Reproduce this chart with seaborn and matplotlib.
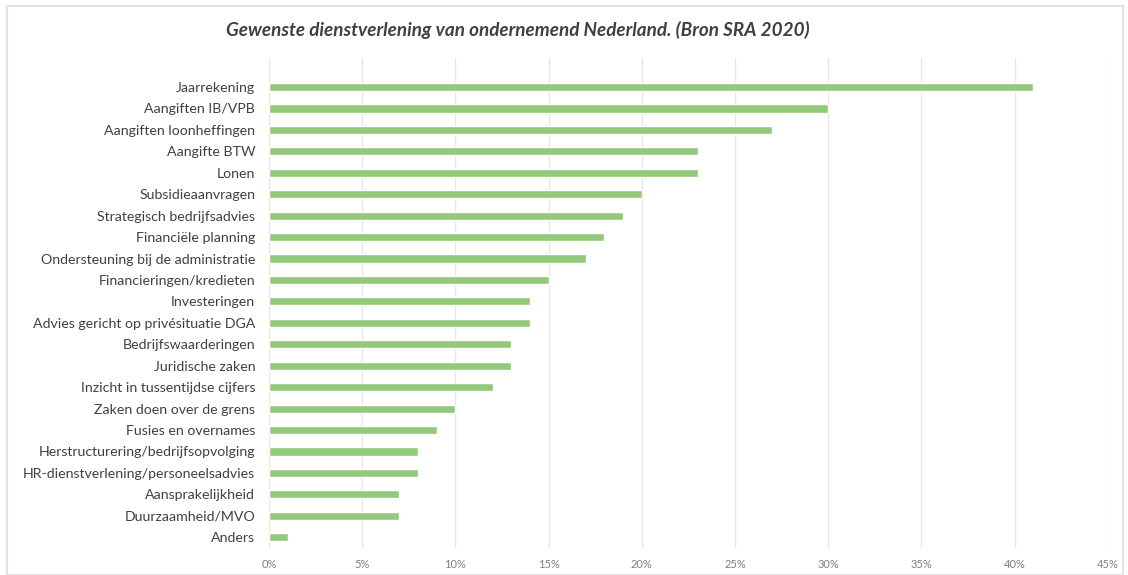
import matplotlib
matplotlib.use("Agg")
import matplotlib.pyplot as plt
import seaborn as sns
import pandas as pd
from matplotlib.patches import Rectangle
from matplotlib.ticker import PercentFormatter

# data
categorieen = [
    'Jaarrekening', 'Aangiften IB/VPB', 'Aangiften loonheffingen', 'Aangifte BTW',
    'Lonen', 'Subsidieaanvragen', 'Strategisch bedrijfsadvies', 'Financiële planning',
    'Ondersteuning bij de administratie', 'Financieringen/kredieten', 'Investeringen',
    'Advies gericht op privésituatie DGA', 'Bedrijfswaarderingen', 'Juridische zaken',
    'Inzicht in tussentijdse cijfers', 'Zaken doen over de grens', 'Fusies en overnames',
    'Herstructurering/bedrijfsopvolging', 'HR-dienstverlening/personeelsadvies',
    'Aansprakelijkheid', 'Duurzaamheid/MVO', 'Anders',
]
percentages = [41, 30, 27, 23, 23, 20, 19, 18, 17, 15, 14, 14, 13, 13, 12, 10, 9, 8, 8, 7, 7, 1]
x_ticks = [0, 5, 10, 15, 20, 25, 30, 35, 40, 45]

df = pd.DataFrame({'dienst': categorieen, 'pct': percentages})

sns.set_theme(style='white')
plt.rcParams['font.family'] = ['Lato', 'DejaVu Sans']

fig = plt.figure(figsize=(11.28, 5.75), dpi=100)
ax = fig.add_axes([0.2385, 0.047, 0.982 - 0.2385, 0.852])

sns.barplot(data=df, x='pct', y='dienst', color='#92c97a', saturation=1,
            width=0.38, ax=ax, orient='h')

ax.set_xlim(0, 45)
ax.set_ylim(21.5, -1.35)
ax.set_xticks(x_ticks)
ax.xaxis.set_major_formatter(PercentFormatter(decimals=0))
ax.grid(axis='x', color='#e6e6e6', linewidth=1)
ax.set_axisbelow(True)
for s in ax.spines.values():
    s.set_visible(False)
ax.set_xlabel('')
ax.set_ylabel('')
ax.tick_params(axis='y', labelsize=10.2, labelcolor='#404040', length=0, pad=10)
ax.tick_params(axis='x', labelsize=8, labelcolor='#7f7f7f', length=0, pad=8)

fig.text(0.459, 0.947, 'Gewenste dienstverlening van ondernemend Nederland. (Bron SRA 2020)',
         ha='center', va='center', fontsize=13.6, style='italic', fontweight='bold',
         color='#404040')

# light frame around the chart area
fig.patches.append(Rectangle((0.006, 0.0), 0.99, 0.99, transform=fig.transFigure,
                             fill=False, edgecolor='#e3e3e3', linewidth=1.5))

fig.savefig('out.png', dpi=100)
